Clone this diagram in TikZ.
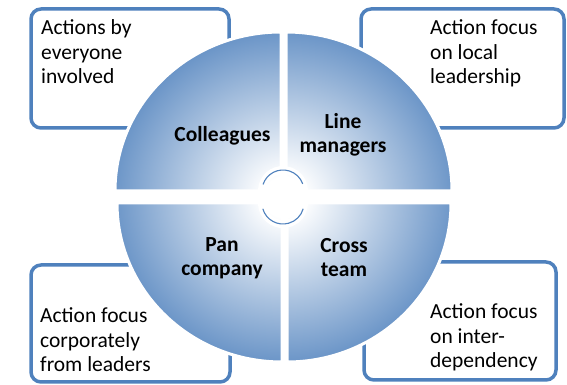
\documentclass[tikz,border=0pt]{standalone}
\usepackage{fontspec}
\setmainfont{Carlito}
\definecolor{qblue}{HTML}{4F81BD}
\pgfdeclareradialshading{qshade}{\pgfpoint{0bp}{0bp}}{color(0bp)=(white); color(3bp)=(white); color(29bp)=(qblue); color(50bp)=(qblue)}
\newcommand{\lines}[2][l]{\begin{tabular}[t]{@{}#1@{}}#2\end{tabular}}
\begin{document}
\begin{tikzpicture}[x=1pt,y=1pt,
  box/.style={draw=qblue, line width=3.5pt, rounded corners=10pt, inner sep=0pt, fill=white},
  boxtext/.style={anchor=base west, inner sep=0pt, font=\fontsize{21.5}{24.3}\selectfont},
  quadlabel/.style={anchor=base, inner sep=0pt, font=\bfseries\fontsize{21.5}{23.5}\selectfont},
  halo/.style={draw=white, line width=8pt},
  cyc/.style={draw=qblue, line width=1.1pt}]
\useasboundingbox (0,0) rectangle (567,385);
% boxes
\node[box, minimum width=198, minimum height=119] (b1) at (130,316.5) {};
\node[box, minimum width=203, minimum height=119] (b2) at (462.5,316.5) {};
\node[box, minimum width=199, minimum height=117] (b3) at (130.5,61.5) {};
\node[box, minimum width=192, minimum height=118] (b4) at (460,64) {};
\node[boxtext] (t1) at (41,350) {\lines{Actions by\\everyone\\involved}};
\node[boxtext] (t2) at (430,350) {\lines{Action focus\\on local\\leadership}};
\node[boxtext] (t3) at (40,62) {\lines{Action focus\\corporately\\from leaders}};
\node[boxtext] (t4) at (430,66) {\lines{Action focus\\on inter-\\dependency}};
% quadrants
\def\qTL{(281,194) -- ++(-166,0) arc[start angle=180,end angle=90,x radius=166,y radius=159] -- cycle}
\def\qTR{(286,194) -- ++(0,159) arc[start angle=90,end angle=0,x radius=166,y radius=159] -- cycle}
\def\qBL{(282,182) -- ++(-165,0) arc[start angle=180,end angle=270,x radius=165,y radius=159] -- cycle}
\def\qBR{(287,182) -- ++(0,-159) arc[start angle=270,end angle=360,x radius=164,y radius=159] -- cycle}
\foreach \q in {\qTL,\qTR,\qBL,\qBR}{
  \begin{scope}
    \clip \q;
    \fill[shading=qshade] (284,188) ellipse[x radius=172, y radius=166];
  \end{scope}
  \draw[white, line width=3pt] \q;
}
% central cycle arrows
\draw[halo] (283,194) ++(188:21) arc[start angle=188,end angle=-8,radius=21];
\draw[halo] (283,182) ++(172:21) arc[start angle=172,end angle=368,radius=21];
\draw[cyc] (283,194) ++(162:21) arc[start angle=162,end angle=20,radius=21];
\draw[cyc] (283,182) ++(196:21) arc[start angle=196,end angle=344,radius=21];
% labels
\node[quadlabel] (l1) at (222.5,243) {Colleagues};
\node[quadlabel] (l2) at (343,256) {\lines[c]{Line\\managers}};
\node[quadlabel] (l3) at (222,133) {\lines[c]{Pan\\company}};
\node[quadlabel] (l4) at (344,132) {\lines[c]{Cross\\team}};
\end{tikzpicture}
\end{document}
